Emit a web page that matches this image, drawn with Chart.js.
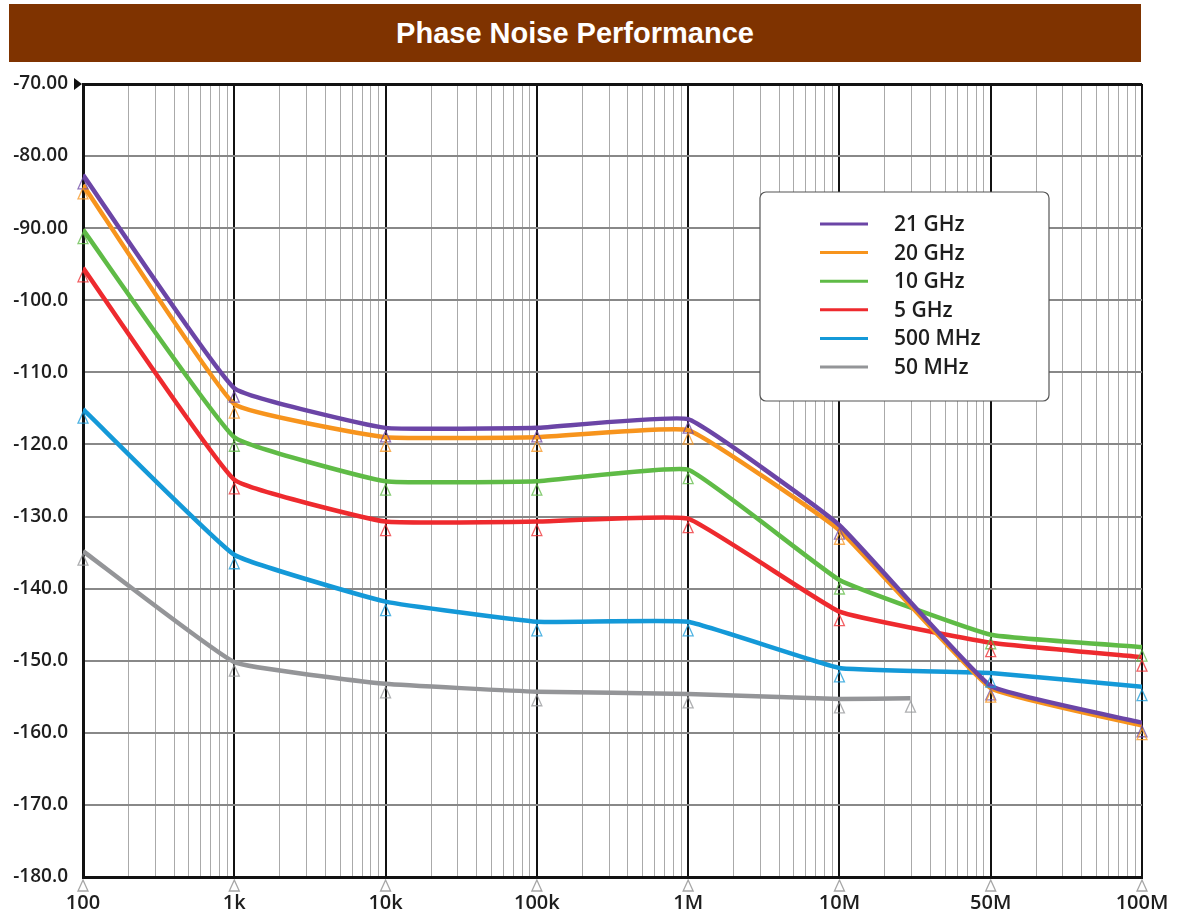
<!DOCTYPE html>
<html>
<head>
<meta charset="utf-8">
<script src="https://cdn.jsdelivr.net/npm/chart.js"></script>
<style>
  html, body { margin: 0; padding: 0; background: #fff; }
  #wrap { position: relative; width: 1183px; height: 918px; }
  #title {
    position: absolute; left: 9px; top: 4px; width: 1132px; height: 58px;
    background: #7f3300; color: #fff; font: bold 29px "Liberation Sans", Arial, sans-serif;
    display: flex; align-items: center; justify-content: center;
  }
  canvas { position: absolute; left: 0; top: 0; }
</style>
</head>
<body>
<div id="wrap">
  <canvas id="pn" width="1183" height="918"></canvas>
  <div id="title">Phase Noise Performance</div>
</div>
<script>
// offset labels, placed one per equal-width cell on the axis
const xLabels = ["100", "1k", "10k", "100k", "1M", "10M", "50M", "100M"];
const xPos = [0, 1, 2, 3, 4, 5, 6, 7];
const xPos50 = [0, 1, 2, 3, 4, 5, 5.47];

const seriesNames = ["21 GHz", "20 GHz", "10 GHz", "5 GHz", "500 MHz", "50 MHz"];
const seriesColors = ["#6b45a6", "#f7941d", "#5fbb46", "#ee2a2e", "#1499d8", "#949598"];

const ghz21 = [-82.6, -112.2, -117.7, -117.7, -116.5, -131.2, -153.5, -158.6];
const ghz20 = [-84.0, -114.4, -119.0, -119.0, -118.0, -131.9, -153.8, -159.0];
const ghz10 = [-90.2, -119.0, -125.1, -125.1, -123.5, -138.8, -146.4, -148.1];
const ghz5 = [-95.5, -124.9, -130.7, -130.7, -130.3, -143.2, -147.5, -149.5];
const mhz500 = [-115.1, -135.3, -141.8, -144.6, -144.6, -151.0, -151.7, -153.6];
const mhz50 = [-134.8, -150.2, -153.2, -154.3, -154.6, -155.3, -155.2];

const yTicks = [-70, -80, -90, -100, -110, -120, -130, -140, -150, -160, -170, -180];

const seriesValues = [ghz21, ghz20, ghz10, ghz5, mhz500, mhz50];

function pts(xs, ys) {
  return ys.map((v, i) => ({ x: xs[i], y: v }));
}

const datasets = seriesValues.map((vals, i) => ({
  label: seriesNames[i],
  data: pts(vals.length === 7 ? xPos50 : xPos, vals),
  borderColor: seriesColors[i],
  borderWidth: 4.5,
  pointRadius: 0,
  tension: 0.1,
  fill: false
}));

// open triangles under every data point, and along the bottom axis
const markerPlugin = {
  id: "markers",
  afterDatasetsDraw(chart) {
    const c = chart.ctx;
    const tri = (x, y, col) => {
      c.beginPath();
      c.moveTo(x, y - 6);
      c.lineTo(x + 5, y + 5);
      c.lineTo(x - 5, y + 5);
      c.closePath();
      c.strokeStyle = col;
      c.lineWidth = 1.3;
      c.stroke();
    };
    c.save();
    c.globalAlpha = 0.75;
    chart.data.datasets.forEach((ds, i) => {
      chart.getDatasetMeta(i).data.forEach(p => tri(p.x, p.y + 9, ds.borderColor));
    });
    const xs = chart.scales.x;
    xPos.forEach(v => tri(xs.getPixelForValue(v), chart.chartArea.bottom + 9, "#888"));
    c.restore();
    // small arrow at the top of the y axis
    c.save();
    c.fillStyle = "#111";
    c.beginPath();
    c.moveTo(chart.chartArea.left - 9, chart.chartArea.top - 6);
    c.lineTo(chart.chartArea.left - 1, chart.chartArea.top);
    c.lineTo(chart.chartArea.left - 9, chart.chartArea.top + 6);
    c.closePath();
    c.fill();
    c.restore();
  }
};

// boxed legend inside the plot
const legendBox = {
  id: "legendBox",
  afterDraw(chart) {
    const c = chart.ctx;
    const x = 760, y = 192, w = 289, h = 209, r = 6;
    c.save();
    c.fillStyle = "#fff";
    c.strokeStyle = "#555";
    c.lineWidth = 1.2;
    c.beginPath();
    c.roundRect(x, y, w, h, r);
    c.fill();
    c.stroke();
    c.font = "600 21px 'Open Sans', sans-serif";
    c.textBaseline = "middle";
    chart.data.datasets.forEach((ds, i) => {
      const ly = 224 + i * 28.6;
      c.strokeStyle = ds.borderColor;
      c.lineWidth = 3;
      c.beginPath();
      c.moveTo(820, ly);
      c.lineTo(868, ly);
      c.stroke();
      c.fillStyle = "#1e1e1e";
      c.fillText(ds.label, 894, ly + 1);
    });
    c.restore();
  }
};

new Chart(document.getElementById("pn"), {
  type: "line",
  data: { datasets },
  plugins: [markerPlugin, legendBox],
  options: {
    responsive: false,
    animation: false,
    layout: { padding: { top: 84, right: 41, left: 0, bottom: 0 } },
    plugins: { legend: { display: false }, tooltip: { enabled: false } },
    scales: {
      x: {
        type: "linear",
        min: 0,
        max: 7,
        afterFit(s) { s.height = 41; },
        afterBuildTicks(s) {
          const t = [];
          for (let i = 0; i < xLabels.length; i++) {
            t.push({ value: i });
            if (i < xLabels.length - 1) {
              for (let k = 2; k <= 9; k++) t.push({ value: i + Math.log10(k) });
            }
          }
          s.ticks = t;
        },
        ticks: {
          autoSkip: false,
          maxRotation: 0,
          padding: 14,
          color: "#1e1e1e",
          font: { family: "'Open Sans', sans-serif", size: 20, weight: "600" },
          callback(v) { return Number.isInteger(v) ? xLabels[v] : ""; }
        },
        grid: {
          drawTicks: false,
          color: ctx => Number.isInteger(ctx.tick.value) ? "#111" : "#aaaaaa",
          lineWidth: ctx => Number.isInteger(ctx.tick.value) ? 2 : 1
        },
        border: { color: "#111", width: 3 }
      },
      y: {
        min: -180,
        max: -70,
        afterFit(s) { s.width = 83; },
        afterBuildTicks(s) { s.ticks = yTicks.map(v => ({ value: v })); },
        ticks: {
          padding: 15,
          color: "#1e1e1e",
          font: { family: "'Open Sans', sans-serif", size: 19, weight: "600" },
          callback(v) { return v >= -90 ? v.toFixed(2) : v.toFixed(1); }
        },
        grid: {
          drawTicks: false,
          color: ctx => ctx.tick.value === -70 ? "#111" : "#888888",
          lineWidth: ctx => ctx.tick.value === -70 ? 3 : 2
        },
        border: { color: "#111", width: 3 }
      }
    }
  }
});
</script>
</body>
</html>
